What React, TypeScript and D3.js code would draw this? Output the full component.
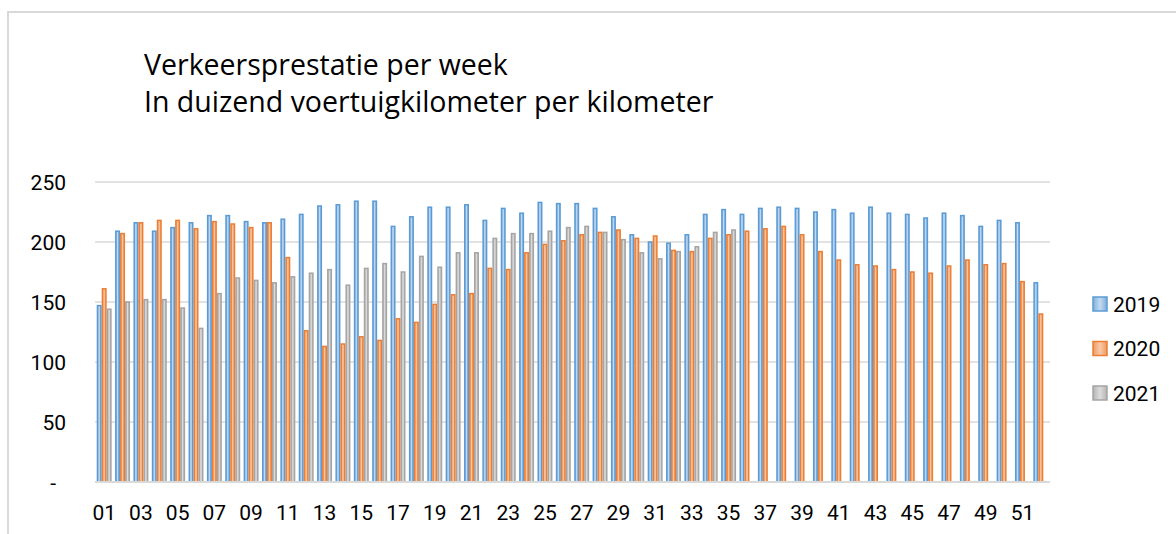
import React from "react";
import * as d3 from "d3";

const weeks: string[] = Array.from({ length: 52 }, (_, i) => String(i + 1).padStart(2, "0"));

const series: string[] = ["2019", "2020", "2021"];

const values2019: number[] = [
  147, 209, 216, 209, 212, 216, 222, 222, 217, 216, 219, 223, 230,
  231, 234, 234, 213, 221, 229, 229, 231, 218, 228, 224, 233, 232,
  232, 228, 221, 206, 200, 199, 206, 223, 227, 223, 228, 229, 228,
  225, 227, 224, 229, 224, 223, 220, 224, 222, 213, 218, 216, 166,
];

const values2020: number[] = [
  161, 207, 216, 218, 218, 211, 217, 215, 212, 216, 187, 126, 113,
  115, 121, 118, 136, 133, 148, 156, 157, 178, 177, 191, 198, 201,
  206, 208, 210, 203, 205, 193, 192, 203, 206, 209, 211, 213, 206,
  192, 185, 181, 180, 177, 175, 174, 180, 185, 181, 182, 167, 140,
];

const values2021: number[] = [
  144, 150, 152, 152, 145, 128, 157, 170, 168, 166, 171, 174, 177,
  164, 178, 182, 175, 188, 179, 191, 191, 203, 207, 207, 209, 212,
  213, 208, 202, 191, 186, 192, 196, 208, 210,
];

const yTicks: number[] = [0, 50, 100, 150, 200, 250];

const titleLines: string[] = [
  "Verkeersprestatie per week",
  "In duizend voertuigkilometer per kilometer",
];

const colors = [
  { stroke: "#5B9BD5", edge: "#7FAEDD", mid: "#C3DAF0" },
  { stroke: "#ED7D31", edge: "#F09A62", mid: "#F8C9A8" },
  { stroke: "#A5A5A5", edge: "#B4B4B4", mid: "#DCDCDC" },
];

const FONT = "Roboto, 'Liberation Sans', sans-serif";

export default function App() {
  const W = 1176;
  const H = 534;
  const plotLeft = 95;
  const plotRight = 1050;
  const plotTop = 182;
  const plotBottom = 482;

  const x0 = d3
    .scaleBand<string>()
    .domain(weeks)
    .range([plotLeft, plotRight])
    .paddingInner(0.185)
    .paddingOuter(0.0925);
  const x1 = d3.scaleBand<string>().domain(series).range([0, x0.bandwidth()]).padding(0);
  const y = d3.scaleLinear().domain([0, 250]).range([plotBottom, plotTop]);

  const data = [values2019, values2020, values2021];

  return (
    <svg
      width={W}
      height={H}
      style={{ position: "absolute", left: 0, top: 0, background: "#fff" }}
      fontFamily={FONT}
    >
      <defs>
        {colors.map((c, i) => (
          <linearGradient key={i} id={`g${i}`} x1="0" x2="1" y1="0" y2="0">
            <stop offset="0%" stopColor={c.edge} />
            <stop offset="50%" stopColor={c.mid} />
            <stop offset="100%" stopColor={c.edge} />
          </linearGradient>
        ))}
      </defs>
      <rect x={8} y={12} width={1200} height={600} fill="#fff" stroke="#d9d9d9" strokeWidth={2} />

      {titleLines.map((t, i) => (
        <text key={i} x={144} y={75 + i * 37} fontSize={28.5} fill="#000" fontFamily="'Open Sans', Lato, sans-serif">
          {t}
        </text>
      ))}

      {yTicks.map((t) => (
        <g key={t}>
          {t > 0 && (
            <line x1={plotLeft} x2={plotRight} y1={y(t)} y2={y(t)} stroke="#d9d9d9" strokeWidth={1.5} />
          )}
          <text
            x={t === 0 ? 56 : 66}
            y={y(t)}
            dy="0.36em"
            textAnchor="end"
            fontSize={21}
            fill="#000"
          >
            {t === 0 ? "-" : String(t)}
          </text>
        </g>
      ))}

      {data.map((vals, si) =>
        vals.map((v, wi) => {
          const bx = (x0(weeks[wi]) ?? 0) + (x1(series[si]) ?? 0);
          const bw = x1.bandwidth();
          return (
            <rect
              key={`${si}-${wi}`}
              x={bx + 0.75}
              y={y(v)}
              width={bw - 1.5}
              height={y(0) - y(v)}
              fill={`url(#g${si})`}
              stroke={colors[si].stroke}
              strokeWidth={1.5}
            />
          );
        })
      )}

      <line x1={plotLeft} x2={plotRight} y1={plotBottom} y2={plotBottom} stroke="#d9d9d9" strokeWidth={2} />

      {weeks.map((w, i) =>
        i % 2 === 0 ? (
          <text
            key={w}
            x={(x0(w) ?? 0) + x0.bandwidth() / 2}
            y={520}
            textAnchor="middle"
            fontSize={21}
            fill="#000"
          >
            {w}
          </text>
        ) : null
      )}

      {series.map((s, i) => (
        <g key={s} transform={`translate(1093, ${297 + i * 44.5})`}>
          <rect x={0} y={0} width={14} height={14} fill={`url(#g${i})`} stroke={colors[i].stroke} strokeWidth={1.5} />
          <text x={20} y={7} dy="0.36em" fontSize={21} fill="#000">
            {s}
          </text>
        </g>
      ))}
    </svg>
  );
}
